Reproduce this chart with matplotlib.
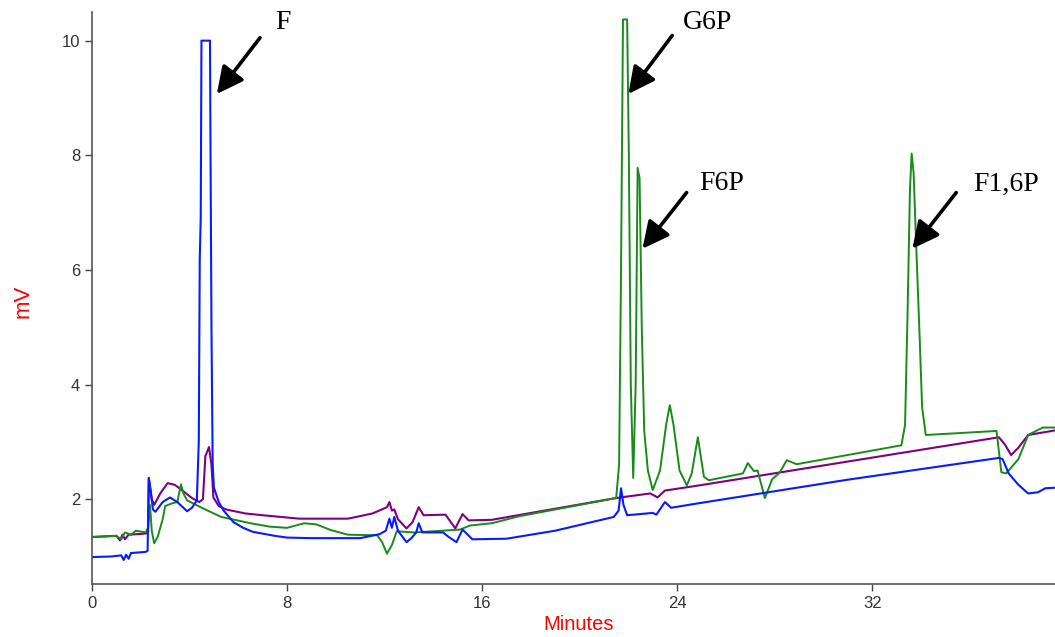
import numpy as np
import matplotlib.pyplot as plt

# Chromatogram traces (minutes, mV)
blue_t = [0.0, 0.8, 1.2, 1.3, 1.4, 1.5, 1.6, 2.2, 2.28, 2.33, 2.42, 2.5, 2.6, 2.9, 3.2,
          3.5, 3.9, 4.1, 4.3, 4.38, 4.42, 4.46, 4.49, 4.84, 4.86, 4.9, 4.95, 5.0, 5.2,
          5.4, 5.8, 6.2, 6.6, 7.5, 8.0, 9.0, 11.0, 11.8, 12.05, 12.2, 12.3, 12.4, 12.55,
          12.9, 13.1, 13.3, 13.4, 13.55, 14.4, 14.6, 14.95, 15.2, 15.6, 17.0, 19.0, 21.4,
          21.6, 21.7, 21.8, 21.95, 23.0, 23.15, 23.5, 23.75, 24.9, 31.0, 37.2, 37.35,
          37.6, 38.0, 38.4, 38.8, 39.1, 39.5]
blue_v = [0.99, 1.00, 1.02, 0.94, 1.03, 0.96, 1.06, 1.08, 1.10, 2.37, 2.10, 1.82, 1.78,
          1.95, 2.03, 1.95, 1.79, 1.85, 1.98, 3.0, 6.2, 6.9, 10.0, 10.0, 8.22, 5.0, 2.6,
          2.2, 1.95, 1.8, 1.6, 1.5, 1.43, 1.36, 1.33, 1.32, 1.32, 1.39, 1.45, 1.66, 1.5,
          1.69, 1.45, 1.25, 1.32, 1.42, 1.58, 1.42, 1.42, 1.35, 1.25, 1.47, 1.30, 1.31,
          1.45, 1.69, 1.8, 2.19, 1.9, 1.72, 1.76, 1.73, 1.95, 1.85, 1.93, 2.34, 2.72,
          2.70, 2.45, 2.25, 2.10, 2.12, 2.19, 2.20]

purple_t = [0.0, 1.0, 1.15, 1.25, 1.35, 1.5, 2.2, 2.3, 2.33, 2.45, 2.55, 2.8, 3.1, 3.4,
            3.8, 4.1, 4.4, 4.55, 4.65, 4.8, 4.9, 4.98, 5.2, 5.5, 6.3, 7.0, 8.5, 10.5,
            11.5, 12.1, 12.2, 12.3, 12.4, 12.55, 12.9, 13.15, 13.4, 13.6, 14.5, 14.9,
            15.2, 15.45, 16.4, 21.5, 22.9, 23.2, 23.5, 24.9, 37.2, 37.45, 37.7, 38.0,
            38.4, 39.5]
purple_v = [1.34, 1.36, 1.28, 1.38, 1.30, 1.38, 1.40, 1.42, 2.37, 2.0, 1.9, 2.1, 2.28,
            2.25, 2.12, 2.02, 1.95, 2.0, 2.75, 2.91, 2.6, 2.03, 1.88, 1.82, 1.75, 1.72,
            1.66, 1.66, 1.75, 1.86, 1.95, 1.80, 1.82, 1.65, 1.49, 1.6, 1.86, 1.72, 1.73,
            1.49, 1.74, 1.63, 1.64, 2.02, 2.10, 2.03, 2.15, 2.24, 3.08, 2.95, 2.77, 2.9,
            3.12, 3.20]

green_t = [0.0, 1.0, 1.2, 1.35, 1.6, 1.8, 2.2, 2.3, 2.38, 2.45, 2.55, 2.7, 2.9, 3.0,
           3.3, 3.5, 3.65, 3.75, 3.9, 4.5, 5.3, 6.5, 7.3, 8.0, 8.7, 9.2, 9.8, 10.5, 11.7,
           11.9, 12.1, 12.3, 12.5, 13.2, 14.0, 15.1, 15.5, 16.4, 17.5, 21.5, 21.62, 21.7,
           21.78, 21.95, 22.02, 22.1, 22.2, 22.3, 22.38, 22.46, 22.55, 22.65, 22.8, 23.0,
           23.3, 23.55, 23.7, 23.85, 24.1, 24.4, 24.6, 24.85, 25.1, 25.3, 26.7, 26.9,
           27.15, 27.3, 27.6, 27.9, 28.2, 28.5, 28.9, 33.2, 33.35, 33.45, 33.55, 33.62,
           33.7, 33.8, 33.95, 34.05, 34.2, 37.1, 37.3, 37.5, 38.0, 38.4, 39.0, 39.5]
green_v = [1.34, 1.36, 1.30, 1.42, 1.38, 1.45, 1.42, 1.50, 1.9, 1.45, 1.23, 1.35, 1.65,
           1.88, 1.93, 1.95, 2.26, 2.1, 1.98, 1.85, 1.69, 1.58, 1.52, 1.50, 1.58, 1.56,
           1.46, 1.38, 1.37, 1.25, 1.05, 1.2, 1.44, 1.42, 1.44, 1.47, 1.54, 1.58, 1.70,
           2.02, 2.6, 6.0, 10.37, 10.37, 8.0, 4.0, 2.37, 4.0, 7.78, 7.6, 5.0, 3.2, 2.5,
           2.16, 2.5, 3.3, 3.64, 3.3, 2.5, 2.24, 2.45, 3.08, 2.39, 2.33, 2.45, 2.63, 2.49,
           2.5, 2.02, 2.35, 2.46, 2.68, 2.61, 2.94, 3.3, 5.2, 7.4, 8.03, 7.7, 6.5, 4.8,
           3.6, 3.12, 3.19, 2.47, 2.45, 2.7, 3.12, 3.25, 3.25]

# Peak labels: text position, arrow tail, arrow head
peak_names = ["F", "G6P", "F6P", "F1,6P"]
label_pos = [(7.83, 10.31), (25.25, 10.31), (25.82, 7.5), (37.5, 7.49)]
arrow_tail = [(6.89, 10.05), (23.8, 10.09), (24.39, 7.35), (35.45, 7.35)]
arrow_head = [(5.12, 9.07), (22.0, 9.07), (22.58, 6.37), (33.65, 6.37)]

x_ticks = [0, 8, 16, 24, 32]
y_ticks = [2, 4, 6, 8, 10]

fig = plt.figure(figsize=(10.55, 6.37), dpi=100)
ax = fig.add_axes([92 / 1055, 53 / 637, 963 / 1055, 572 / 637])

ax.plot(purple_t, purple_v, color="#800080", lw=1.5)
ax.plot(green_t, green_v, color="#1a8a1a", lw=1.4)
ax.plot(blue_t, blue_v, color="#0a1aff", lw=1.5)

for name, lp, tail, head in zip(peak_names, label_pos, arrow_tail, arrow_head):
    ax.annotate("", xy=head, xytext=tail,
                arrowprops=dict(arrowstyle="-|>,head_length=0.9,head_width=0.45",
                                lw=2.6, color="black", mutation_scale=18,
                                shrinkA=0, shrinkB=0))
    ax.text(lp[0], lp[1], name, family="Liberation Serif", fontsize=20,
            ha="center", va="center", color="black")

ax.set_xlim(0, 39.5)
ax.set_ylim(0.52, 10.5)
ax.set_xticks(x_ticks)
ax.set_yticks(y_ticks)
ax.tick_params(axis="both", direction="out", length=5, width=1, colors="#444444",
               labelsize=12, labelcolor="#333333")
for lab in ax.get_xticklabels() + ax.get_yticklabels():
    lab.set_family("Liberation Sans")

for side in ["top", "right"]:
    ax.spines[side].set_visible(False)
for side in ["left", "bottom"]:
    ax.spines[side].set_color("#555555")
    ax.spines[side].set_linewidth(1.2)

ax.set_xlabel("Minutes", color="red", fontsize=14.5, family="Liberation Sans")
ax.xaxis.set_label_coords(0.505, -0.055)
ax.set_ylabel("mV", color="red", fontsize=16, family="Liberation Sans")
ax.yaxis.set_label_coords(-0.061, 0.495)

fig.savefig("out.png", dpi=100)
